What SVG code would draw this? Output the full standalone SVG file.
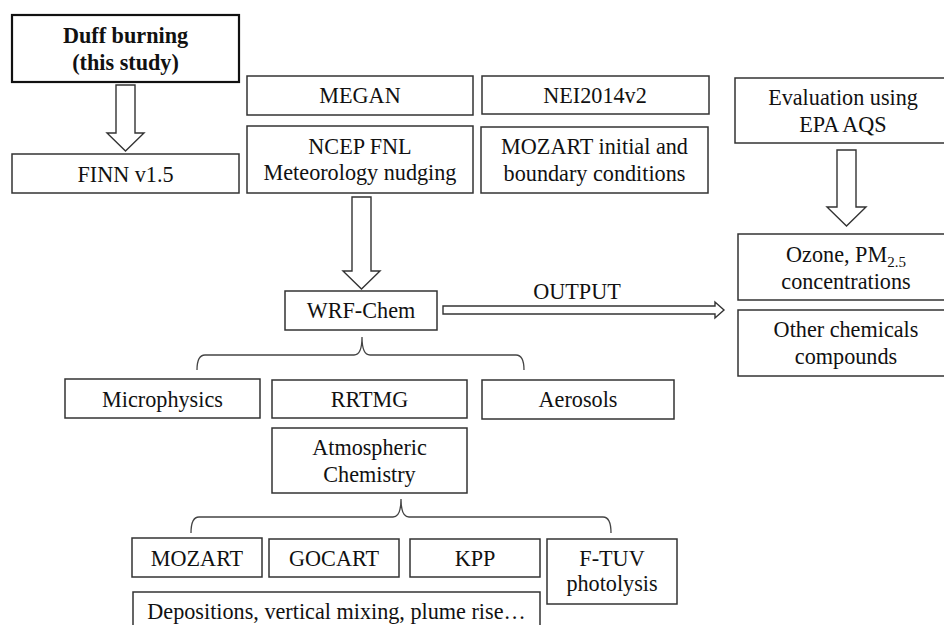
<svg xmlns="http://www.w3.org/2000/svg" width="944" height="625" viewBox="0 0 944 625">
<style>
.n{fill:#fff;stroke:#333;stroke-width:1.5}
.thick{stroke:#111;stroke-width:2.2}
text{font-family:"Liberation Serif","Times New Roman",serif;font-size:22.2px;fill:#111;text-anchor:middle}
.b{font-weight:bold}
.arr{fill:#fff;stroke:#333;stroke-width:1.4;stroke-linejoin:miter}
.br{fill:none;stroke:#444;stroke-width:1.3}
</style>
<rect width="944" height="625" fill="#fff"/>
<g id="connectors">
<path class="arr" d="M116,85 L135,85 L135,133 L144,133 L125.5,151 L107,133 L116,133 Z"/>
<path class="arr" d="M352,197 L371,197 L371,271 L380,271 L361.5,289 L343,271 L352,271 Z"/>
<path class="arr" d="M837,150 L856,150 L856,207 L866,207 L846.5,226 L827,207 L837,207 Z"/>
<path class="arr" d="M443,306 L715,306 L715,302 L724,310 L715,318 L715,314 L443,314 Z"/>
<text x="577" y="299">OUTPUT</text>
<path class="br" d="M197,370 Q197,355 205,355 L354,355 Q362,355 362,337 Q362,355 370,355 L516,355 Q524,355 524,370"/>
<path class="br" d="M191,533 Q191,517 199,517 L393,517 Q401,517 401,499 Q401,517 409,517 L603,517 Q611,517 611,533"/>
</g>
<g id="duff"><rect class="n thick" x="12" y="15" width="227" height="67"/><text class="b" x="125.5" y="43">Duff burning</text><text class="b" x="125.5" y="70">(this study)</text></g>
<g id="finn"><rect class="n" x="12" y="154" width="227" height="39"/><text x="125.5" y="182">FINN v1.5</text></g>
<g id="megan"><rect class="n" x="247" y="76" width="226" height="39"/><text x="360" y="103">MEGAN</text></g>
<g id="ncep"><rect class="n" x="247" y="126" width="226" height="67"/><text x="360" y="154">NCEP FNL</text><text x="360" y="180">Meteorology nudging</text></g>
<g id="nei"><rect class="n" x="482" y="76" width="227" height="38"/><text x="595" y="103">NEI2014v2</text></g>
<g id="mozart-ic"><rect class="n" x="481" y="127" width="227" height="66"/><text x="594.5" y="154">MOZART initial and</text><text x="594.5" y="181">boundary conditions</text></g>
<g id="evaluation"><rect class="n" x="735" y="78" width="215" height="65"/><text x="843" y="105">Evaluation using</text><text x="843" y="132">EPA AQS</text></g>
<g id="ozone"><rect class="n" x="738" y="234" width="212" height="66"/><text x="846" y="262">Ozone, PM<tspan font-size="15" dy="5">2.5</tspan></text><text x="846" y="289">concentrations</text></g>
<g id="other"><rect class="n" x="738" y="310" width="212" height="66"/><text x="846" y="337">Other chemicals</text><text x="846" y="364">compounds</text></g>
<g id="wrf"><rect class="n" x="285" y="291" width="152" height="39"/><text x="361" y="318">WRF-Chem</text></g>
<g id="micro"><rect class="n" x="65" y="379" width="195" height="39"/><text x="162.5" y="407">Microphysics</text></g>
<g id="rrtmg"><rect class="n" x="272" y="380" width="195" height="38"/><text x="369.5" y="407">RRTMG</text></g>
<g id="aerosols"><rect class="n" x="482" y="380" width="192" height="39"/><text x="578" y="407">Aerosols</text></g>
<g id="atmchem"><rect class="n" x="272" y="428" width="195" height="65"/><text x="369.5" y="455">Atmospheric</text><text x="369.5" y="482">Chemistry</text></g>
<g id="mozart"><rect class="n" x="132" y="538" width="130" height="39"/><text x="197" y="566">MOZART</text></g>
<g id="gocart"><rect class="n" x="269" y="539" width="130" height="38"/><text x="334" y="566">GOCART</text></g>
<g id="kpp"><rect class="n" x="410" y="539" width="130" height="38"/><text x="475" y="566">KPP</text></g>
<g id="ftuv"><rect class="n" x="547" y="539" width="130" height="65"/><text x="612" y="566">F-TUV</text><text x="612" y="591">photolysis</text></g>
<g id="depositions"><rect class="n" x="133" y="592" width="407" height="40"/><text x="336.5" y="619">Depositions, vertical mixing, plume rise…</text></g>
</svg>
